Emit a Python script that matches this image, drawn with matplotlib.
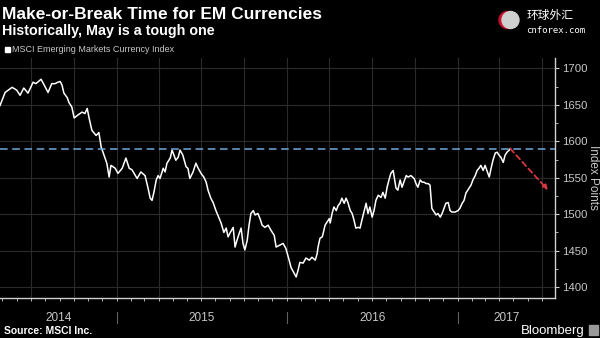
import matplotlib
matplotlib.use("Agg")
import matplotlib.pyplot as plt
import matplotlib.dates as mdates
import matplotlib.transforms as mtransforms
from matplotlib.patches import Circle, Rectangle
import pandas as pd

# MSCI Emerging Markets Currency Index
dates = [
    "2014-04-26", "2014-05-07", "2014-05-22", "2014-06-01", "2014-06-08", "2014-06-16",
    "2014-06-25", "2014-07-06", "2014-07-12", "2014-07-23", "2014-07-29", "2014-08-07",
    "2014-08-15", "2014-08-22", "2014-08-28", "2014-09-02", "2014-09-06", "2014-09-10",
    "2014-09-17", "2014-09-21", "2014-09-27", "2014-10-02", "2014-10-10", "2014-10-19",
    "2014-10-25", "2014-10-30", "2014-11-03", "2014-11-09", "2014-11-18", "2014-11-24",
    "2014-11-29", "2014-12-05", "2014-12-11", "2014-12-16", "2014-12-20", "2014-12-29",
    "2015-01-04", "2015-01-13", "2015-01-21", "2015-01-28", "2015-02-03", "2015-02-14",
    "2015-02-22", "2015-03-03", "2015-03-09", "2015-03-14", "2015-03-18", "2015-03-22",
    "2015-03-27", "2015-03-31", "2015-04-04", "2015-04-11", "2015-04-15", "2015-04-19",
    "2015-04-26", "2015-04-30", "2015-05-04", "2015-05-08", "2015-05-13", "2015-05-17",
    "2015-05-23", "2015-05-30", "2015-06-03", "2015-06-07", "2015-06-14", "2015-06-20",
    "2015-06-25", "2015-07-01", "2015-07-07", "2015-07-12", "2015-07-16", "2015-07-22",
    "2015-07-27", "2015-08-02", "2015-08-09", "2015-08-13", "2015-08-19", "2015-08-24",
    "2015-08-28", "2015-09-01", "2015-09-08", "2015-09-12", "2015-09-16", "2015-09-21",
    "2015-09-25", "2015-09-29", "2015-10-03", "2015-10-08", "2015-10-12", "2015-10-16",
    "2015-10-21", "2015-10-25", "2015-10-31", "2015-11-05", "2015-11-09", "2015-11-15",
    "2015-11-22", "2015-11-28", "2015-12-05", "2015-12-09", "2015-12-15", "2015-12-24",
    "2015-12-30", "2016-01-06", "2016-01-10", "2016-01-16", "2016-01-21", "2016-01-25",
    "2016-01-29", "2016-02-05", "2016-02-11", "2016-02-18", "2016-02-24", "2016-03-02",
    "2016-03-06", "2016-03-08", "2016-03-12", "2016-03-17", "2016-03-19", "2016-03-23",
    "2016-03-27", "2016-04-01", "2016-04-03", "2016-04-07", "2016-04-11", "2016-04-16",
    "2016-04-20", "2016-04-24", "2016-04-28", "2016-05-03", "2016-05-07", "2016-05-11",
    "2016-05-16", "2016-05-20", "2016-05-24", "2016-05-28", "2016-06-02", "2016-06-06",
    "2016-06-10", "2016-06-15", "2016-06-19", "2016-06-23", "2016-06-27", "2016-07-02",
    "2016-07-06", "2016-07-10", "2016-07-15", "2016-07-21", "2016-07-25", "2016-07-30",
    "2016-08-03", "2016-08-07", "2016-08-11", "2016-08-16", "2016-08-22", "2016-08-26",
    "2016-08-31", "2016-09-04", "2016-09-08", "2016-09-13", "2016-09-17", "2016-09-23",
    "2016-09-30", "2016-10-04", "2016-10-08", "2016-10-13", "2016-10-17", "2016-10-21",
    "2016-10-26", "2016-10-30", "2016-11-03", "2016-11-07", "2016-11-12", "2016-11-16",
    "2016-11-20", "2016-11-25", "2016-11-29", "2016-12-03", "2016-12-07", "2016-12-12",
    "2016-12-16", "2016-12-20", "2016-12-27", "2017-01-02", "2017-01-06", "2017-01-11",
    "2017-01-15", "2017-01-19", "2017-01-26", "2017-01-30", "2017-02-03", "2017-02-08",
    "2017-02-12", "2017-02-16", "2017-02-20", "2017-02-25", "2017-03-01", "2017-03-05",
    "2017-03-10", "2017-03-14", "2017-03-18", "2017-03-23", "2017-03-27", "2017-03-31",
    "2017-04-04", "2017-04-09", "2017-04-13", "2017-04-17", "2017-04-22", "2017-04-24",
]
index_pts = [
    1649, 1667, 1674, 1670, 1663, 1673,
    1666, 1681, 1679, 1685, 1678, 1667,
    1679, 1679, 1681, 1682, 1677, 1666,
    1660, 1653, 1647, 1632, 1636, 1640,
    1638, 1645, 1632, 1615, 1608, 1612,
    1592, 1581, 1570, 1551, 1567, 1563,
    1556, 1563, 1577, 1563, 1561, 1549,
    1558, 1553, 1537, 1522, 1519, 1530,
    1547, 1553, 1549, 1563, 1558, 1570,
    1577, 1588, 1581, 1574, 1578, 1588,
    1581, 1565, 1563, 1549, 1558, 1570,
    1563, 1556, 1551, 1544, 1533, 1522,
    1516, 1505, 1494, 1488, 1475, 1481,
    1469, 1474, 1482, 1455, 1464, 1474,
    1481, 1460, 1451, 1464, 1485, 1501,
    1505, 1499, 1501, 1493, 1485, 1482,
    1485, 1478, 1471, 1455, 1457, 1460,
    1453, 1437, 1427, 1420, 1414, 1423,
    1434, 1433, 1440, 1437, 1441, 1437,
    1446, 1455, 1467, 1469, 1474, 1485,
    1489, 1494, 1488, 1501, 1510, 1505,
    1512, 1515, 1522, 1515, 1522, 1516,
    1505, 1501, 1492, 1481, 1482, 1481,
    1492, 1505, 1515, 1501, 1510, 1496,
    1505, 1519, 1526, 1523, 1530, 1522,
    1537, 1547, 1556, 1560, 1536, 1533,
    1547, 1537, 1544, 1553, 1551, 1553,
    1549, 1542, 1537, 1547, 1544, 1544,
    1542, 1542, 1540, 1508, 1503, 1499,
    1501, 1496, 1501, 1508, 1515, 1516,
    1505, 1503, 1503, 1505, 1508, 1515,
    1519, 1529, 1536, 1540, 1547, 1553,
    1560, 1563, 1567, 1560, 1567, 1560,
    1551, 1563, 1574, 1584, 1585, 1581,
    1578, 1571, 1581, 1585, 1588, 1590,
]

may_high = 1590                      # level of the dashed reference line
arrow_end = ("2017-07-14", 1533)     # where the projected drop points
x_range = ("2014-04-26", "2017-07-29")
y_ticks = [1400, 1450, 1500, 1550, 1600, 1650, 1700]
years = [2014, 2015, 2016, 2017]

BG = "black"
GRID = "#2b2b2b"
TXT = "#c8c8c8"

plt.rcParams["font.family"] = ["Liberation Sans", "DejaVu Sans"]

t = pd.to_datetime(dates)
x0, x1 = pd.to_datetime(x_range[0]), pd.to_datetime(x_range[1])

fig = plt.figure(figsize=(6, 3.38), dpi=100, facecolor=BG)
ax = fig.add_axes([0.0, 0.118, 0.925, 0.71])
ax.set_facecolor(BG)

ax.plot(t, index_pts, color="white", lw=1.1, solid_joinstyle="round")
ax.axhline(may_high, color="#6fa8dc", lw=1.1, dashes=(5, 3))
ax.annotate("", xy=(pd.to_datetime(arrow_end[0]), arrow_end[1]),
            xytext=(t[-1], index_pts[-1]),
            arrowprops=dict(arrowstyle="-|>", color="#d9363e", lw=1.3,
                            linestyle=(0, (3, 2)), shrinkA=0, shrinkB=0,
                            mutation_scale=7))

ax.set_xlim(x0, x1)
ax.set_ylim(1385, 1714)

# grid: quarterly verticals, 50-point horizontals
ax.set_yticks(y_ticks)
ax.yaxis.set_minor_locator(matplotlib.ticker.MultipleLocator(25))
ax.xaxis.set_major_locator(mdates.MonthLocator(bymonth=[1, 4, 7, 10]))
ax.xaxis.set_minor_locator(mdates.MonthLocator())
ax.grid(True, which="major", color=GRID, lw=0.8)
ax.set_xticklabels([])

for s in ["top", "left"]:
    ax.spines[s].set_visible(False)
for s in ["right", "bottom"]:
    ax.spines[s].set_color("#d0d0d0")
    ax.spines[s].set_linewidth(1.0)

ax.yaxis.tick_right()
ax.tick_params(axis="y", which="major", colors="#d0d0d0", labelcolor=TXT,
               length=3, width=0.8, labelsize=8.2, pad=2)
ax.tick_params(axis="y", which="minor", colors="#d0d0d0", length=2, width=0.6)
ax.tick_params(axis="x", which="both", colors="#d0d0d0", length=2, width=0.6)

# axis title sits in the strip right of the tick labels
fig.text(0.988, 0.475, "Index Points", color=TXT, fontsize=8.5,
         rotation=270, ha="center", va="center")

# year separators and centred year labels under the axis
trans = mtransforms.blended_transform_factory(ax.transData, ax.transAxes)
for yr in years:
    start = max(pd.Timestamp(f"{yr}-01-01"), x0)
    end = min(pd.Timestamp(f"{yr + 1}-01-01"), x1)
    mid = start + (end - start) / 2
    ax.text(mid, -0.082, str(yr), transform=trans, ha="center", va="center",
            color=TXT, fontsize=8.5)
    if yr > years[0]:
        ax.plot([start, start], [-0.058, -0.105], transform=trans,
                color="#606060", lw=0.8, clip_on=False)

# headings
fig.text(0.004, 0.958, "Make-or-Break Time for EM Currencies", color="white",
         fontsize=12.5, fontweight="bold", va="center", ha="left")
fig.text(0.004, 0.907, "Historically, May is a tough one", color="white",
         fontsize=10.3, fontweight="bold", va="center", ha="left")
fig.patches.append(Rectangle((0.008, 0.845), 0.009, 0.016, color="white",
                             transform=fig.transFigure, figure=fig))
fig.text(0.02, 0.853, "MSCI Emerging Markets Currency Index", color=TXT,
         fontsize=6.5, va="center", ha="left")

# footer
fig.text(0.006, 0.022, "Source: MSCI Inc.", color="white", fontsize=7.5,
         fontweight="bold", va="center", ha="left")
fig.text(0.975, 0.022, "Bloomberg", color="white", fontsize=9.5,
         va="center", ha="right")
fig.patches.append(Rectangle((0.982, 0.008), 0.014, 0.03, color="#9a9a9a",
                             transform=fig.transFigure, figure=fig))

# cnforex mark, top right (drawn in inches so the circles stay round)
fig.patches.append(Circle((5.075, 3.18), 0.085, color="#c8102e",
                          transform=fig.dpi_scale_trans, figure=fig))
fig.patches.append(Circle((5.105, 3.18), 0.085, color="#cfcfcf",
                          transform=fig.dpi_scale_trans, figure=fig))
fig.text(0.877, 0.953, "环球外汇", color="white", fontsize=8.5,
         family=["Noto Sans CJK SC", "DejaVu Sans"], va="center", ha="left")
fig.text(0.877, 0.91, "cnforex.com", color="white", fontsize=6.5,
         family=["DejaVu Sans Mono"], va="center", ha="left")

fig.savefig("out.png", dpi=100, facecolor=BG)
